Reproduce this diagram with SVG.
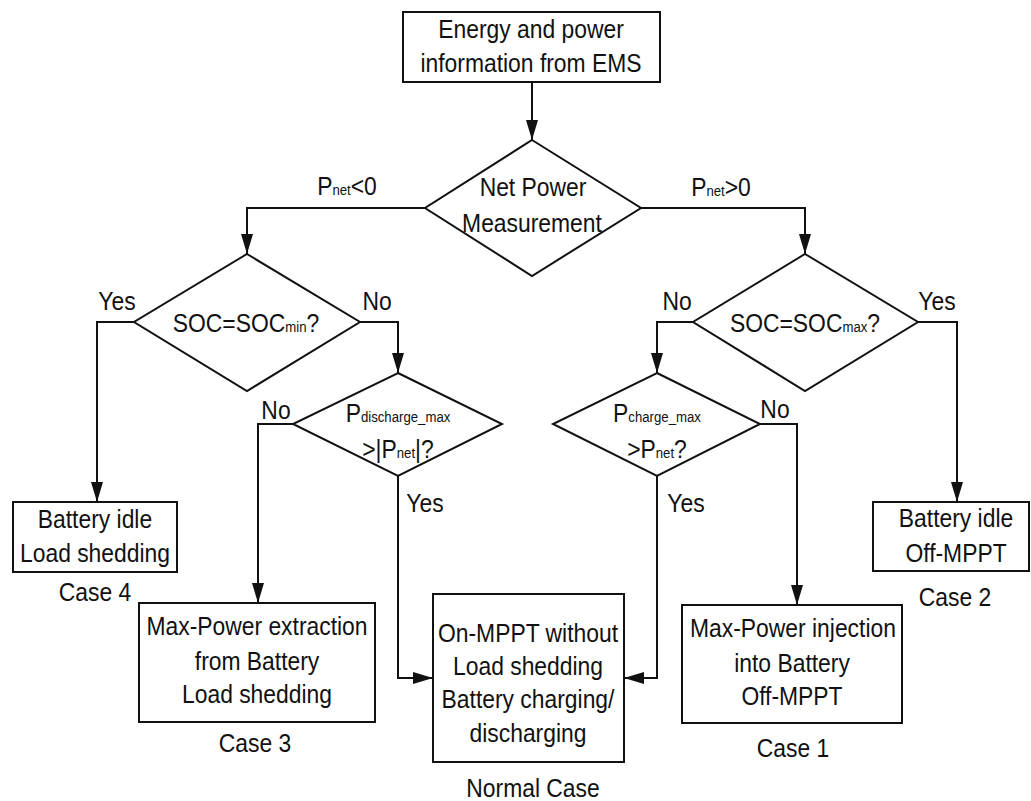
<svg xmlns="http://www.w3.org/2000/svg" width="1031" height="801" viewBox="0 0 1031 801">
<style>
.n{fill:#fff;stroke:#111;stroke-width:2}
text{font-family:"Liberation Sans",Arial,sans-serif;font-size:26px;fill:#111;text-anchor:middle;transform-box:fill-box;transform-origin:center;transform:scaleX(0.88)}
.s{font-size:15px}
.c{fill:none;stroke:#111;stroke-width:2;marker-end:url(#ah)}
</style>
<defs>
<marker id="ah" markerUnits="userSpaceOnUse" markerWidth="20" markerHeight="12" refX="20" refY="6" orient="auto">
<path d="M0,0 L20,6 L0,12 z" fill="#111"/>
</marker>
</defs>
<rect width="1031" height="801" fill="#fff"/>
<g id="connectors">
<path class="c" d="M532,82 V140"/>
<path class="c" d="M425,208 H247 V254"/>
<path class="c" d="M641,208 H805 V254"/>
<path class="c" d="M134,322 H97 V502"/>
<path class="c" d="M360,322 H398 V373"/>
<path class="c" d="M293,424 H258 V603"/>
<path class="c" d="M398,476 V678 H433"/>
<path class="c" d="M693,322 H657 V373"/>
<path class="c" d="M918,322 H957 V502"/>
<path class="c" d="M760,424 H797 V605"/>
<path class="c" d="M657,476 V678 H624"/>
</g>
<g id="labels">
<text x="347" y="195">P<tspan class="s">net</tspan>&lt;0</text>
<text x="721" y="196">P<tspan class="s">net</tspan>&gt;0</text>
<text x="117" y="310">Yes</text>
<text x="377" y="310">No</text>
<text x="677" y="310">No</text>
<text x="937" y="310">Yes</text>
<text x="276" y="419">No</text>
<text x="425" y="512">Yes</text>
<text x="775" y="418">No</text>
<text x="686" y="512">Yes</text>
</g>
<g id="start">
<rect class="n" x="403" y="12" width="257" height="70"/>
<text x="531" y="38">Energy and power</text>
<text x="531" y="72">information from EMS</text>
</g>
<g id="netpower">
<polygon class="n" points="532,140 641,208 532,276 425,208"/>
<text x="533" y="196">Net Power</text>
<text x="532" y="232">Measurement</text>
</g>
<g id="socmin">
<polygon class="n" points="247,254 360,322 247,391 134,322"/>
<text x="246" y="332">SOC=SOC<tspan class="s">min</tspan>?</text>
</g>
<g id="socmax">
<polygon class="n" points="805,254 918,322 805,391 693,322"/>
<text x="805" y="332">SOC=SOC<tspan class="s">max</tspan>?</text>
</g>
<g id="pdischarge">
<polygon class="n" points="398,373 502,424 398,476 293,424"/>
<text x="398" y="422">P<tspan class="s">discharge_max</tspan></text>
<text x="398" y="458">&gt;|P<tspan class="s">net</tspan>|?</text>
</g>
<g id="pcharge">
<polygon class="n" points="657,373 760,424 657,476 553,424"/>
<text x="657" y="422">P<tspan class="s">charge_max</tspan></text>
<text x="657" y="458">&gt;P<tspan class="s">net</tspan>?</text>
</g>
<g id="case4">
<rect class="n" x="13" y="502" width="164" height="70"/>
<text x="95" y="528">Battery idle</text>
<text x="95" y="562">Load shedding</text>
<text x="95" y="601">Case 4</text>
</g>
<g id="case3">
<rect class="n" x="139" y="603" width="236" height="119"/>
<text x="257" y="635">Max-Power extraction</text>
<text x="257" y="670">from Battery</text>
<text x="257" y="703">Load shedding</text>
<text x="255" y="752">Case 3</text>
</g>
<g id="normal">
<rect class="n" x="433" y="594" width="191" height="168"/>
<text x="528" y="642">On-MPPT without</text>
<text x="528" y="675">Load shedding</text>
<text x="528" y="708">Battery charging/</text>
<text x="528" y="742">discharging</text>
<text x="533" y="797">Normal Case</text>
</g>
<g id="case1">
<rect class="n" x="682" y="605" width="220" height="118"/>
<text x="793" y="637">Max-Power injection</text>
<text x="792" y="672">into Battery</text>
<text x="792" y="705">Off-MPPT</text>
<text x="793" y="757">Case 1</text>
</g>
<g id="case2">
<rect class="n" x="873" y="502" width="156" height="69"/>
<text x="956" y="527">Battery idle</text>
<text x="956" y="562">Off-MPPT</text>
<text x="955" y="606">Case 2</text>
</g>
</svg>
